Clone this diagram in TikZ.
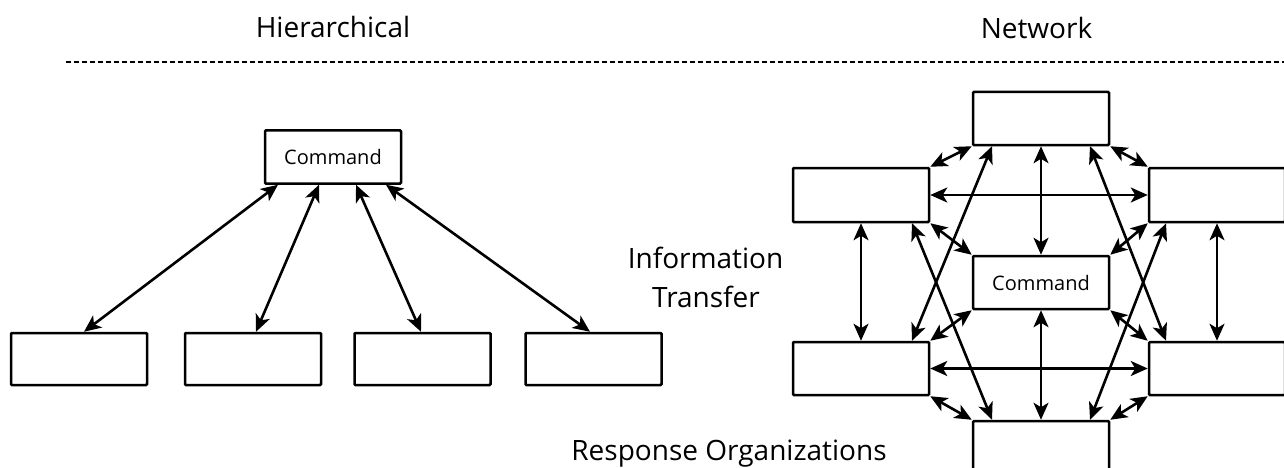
\documentclass[tikz,border=0pt]{standalone}
\usepackage{fontspec}
\setmainfont{Open Sans}
\usetikzlibrary{arrows.meta,calc}
\begin{document}
\begin{tikzpicture}[x=1pt,y=-1pt,
  box/.style={draw,line width=2.5pt,rounded corners=1pt,minimum width=136pt,minimum height=53pt,inner sep=0pt,font=\fontsize{20}{24}\selectfont},
  link/.style={line width=2.6pt,{Stealth[length=17pt,width=15pt,inset=4.5pt]}-{Stealth[length=17pt,width=15pt,inset=4.5pt]}},
  title/.style={font=\fontsize{28}{32}\selectfont,anchor=base},
  label/.style={font=\fontsize{28}{32}\selectfont,anchor=base}]
\useasboundingbox (0,0) rectangle (1284,468);
% titles
\node[title] (th) at (333,38) {Hierarchical};
\node[title] (tn) at (1036.5,39) {Network};
\coordinate (dl) at (66,62);
\coordinate (dr) at (1290,62);
\draw[line width=2.4pt,dash pattern=on 5pt off 3pt] (dl) -- (dr);
% hierarchical
\node[box] (hc) at (333,157) {Command};
\node[box,minimum height=52pt] (h1) at (79,359) {};
\node[box,minimum height=52pt] (h2) at (253,359) {};
\node[box,minimum height=52pt] (h3) at (422.5,359) {};
\node[box,minimum height=52pt] (h4) at (593.5,359) {};
\draw[link] ($(hc.south)+(-55,0)$) -- ($(h1.north)+(5,0)$);
\draw[link] ($(hc.south)+(-14,0)$) -- ($(h2.north)+(3,0)$);
\draw[link] ($(hc.south)+(23,0)$) -- ($(h3.north)+(-1.5,0)$);
\draw[link] ($(hc.south)+(53,0)$) -- ($(h4.north)+(-3.5,0)$);
% labels
\node[label] (it1) at (705.5,268) {Information};
\node[label] (it2) at (706,307) {Transfer};
\node[label] (ro) at (729,460) {Response Organizations};
% network
\node[box] (nt) at (1041,118.5) {};
\node[box,minimum height=54pt] (nul) at (861,195) {};
\node[box,minimum height=54pt] (nur) at (1217,195) {};
\node[box] (nc) at (1041,282.5) {Command};
\node[box] (nll) at (861,368.5) {};
\node[box] (nlr) at (1217,368.5) {};
\node[box] (nb) at (1041,447.5) {};
\draw[link] (nul.north east) -- (nt.south west);
\draw[link] ($(nt.south)+(-49,0)$) -- ($(nll.north)+(51,0)$);
\draw[link] (nt.south) -- (nc.north);
\draw[link] ($(nt.south)+(49,0)$) -- ($(nlr.north)+(-51,0)$);
\draw[link] (nt.south east) -- (nur.north west);
\draw[link] (nul.east) -- (nur.west);
\draw[link] ($(nul.south)+(51,0)$) -- ($(nb.north)+(-49,0)$);
\draw[link] (nul.south east) -- (nc.north west);
\draw[link] (nur.south west) -- (nc.north east);
\draw[link] ($(nur.south)+(-51,0)$) -- ($(nb.north)+(49,0)$);
\draw[link] (nul.south) -- (nll.north);
\draw[link] (nur.south) -- (nlr.north);
\draw[link] (nc.south west) -- (nll.north east);
\draw[link] (nc.south) -- (nb.north);
\draw[link] (nc.south east) -- (nlr.north west);
\draw[link] (nll.east) -- (nlr.west);
\draw[link] (nll.south east) -- (nb.north west);
\draw[link] (nlr.south west) -- (nb.north east);
\end{tikzpicture}
\end{document}
